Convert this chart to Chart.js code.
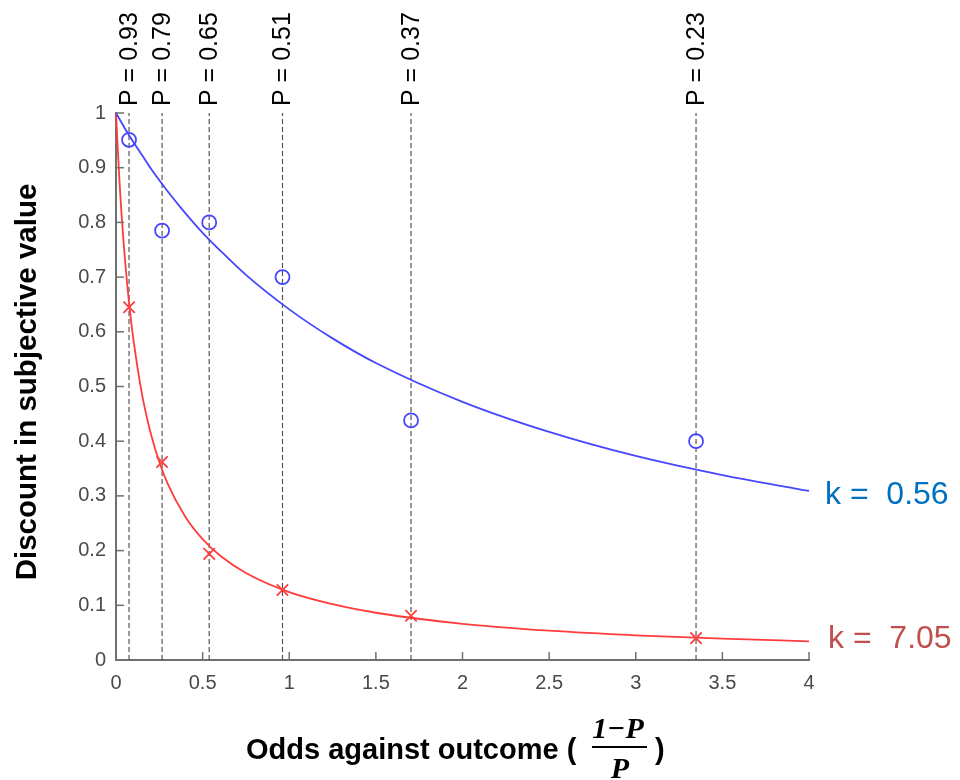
<!DOCTYPE html>
<html>
<head>
<meta charset="utf-8">
<script src="https://cdn.jsdelivr.net/npm/chart.js@4.4.1/dist/chart.umd.min.js"></script>
<style>
html,body{margin:0;padding:0;background:#fff;}
#wrap{width:960px;height:780px;}
</style>
</head>
<body>
<div id="wrap"><canvas id="c" width="960" height="780"></canvas></div>
<script>
// ---- data ----
const oddsX = [0.0753, 0.266, 0.538, 0.961, 1.703, 3.348];
const pLabels = ['P = 0.93', 'P = 0.79', 'P = 0.65', 'P = 0.51', 'P = 0.37', 'P = 0.23'];
const blueObserved = [0.951, 0.785, 0.800, 0.700, 0.438, 0.400];
const redObserved = [0.645, 0.362, 0.194, 0.128, 0.081, 0.040];
const curveX = [0, 0.02, 0.04, 0.06, 0.08, 0.1, 0.15, 0.2, 0.25, 0.3, 0.4, 0.5, 0.6, 0.75, 1, 1.25, 1.5, 2, 2.5, 3, 3.5, 4];
const blueCurve = [1, 0.989, 0.978, 0.967, 0.957, 0.947, 0.923, 0.899, 0.877, 0.856, 0.817, 0.781, 0.749, 0.704, 0.641, 0.588, 0.543, 0.472, 0.417, 0.373, 0.338, 0.309];
const redCurve = [1, 0.876, 0.780, 0.703, 0.639, 0.587, 0.486, 0.415, 0.362, 0.321, 0.262, 0.221, 0.191, 0.159, 0.124, 0.102, 0.0864, 0.0662, 0.0537, 0.0451, 0.0389, 0.0342];
const xTicks = [0, 0.5, 1, 1.5, 2, 2.5, 3, 3.5, 4];
const yTicks = [0, 0.1, 0.2, 0.3, 0.4, 0.5, 0.6, 0.7, 0.8, 0.9, 1];
const kLabels = ['k =  0.56', 'k =  7.05'];
const kValues = [0.309, 0.0342]; // curve end values where labels sit

const BLUE = 'rgb(70,70,255)';
const RED = 'rgb(255,60,60)';
const AXIS = '#707070';
const TICKC = '#4a4a4a';
const SANS = '"Liberation Sans", Arial, Helvetica, sans-serif';

const pairs = (xs, ys) => xs.map((x, i) => ({x: x, y: ys[i]}));

const dashSets = oddsX.map(x => ({
  type: 'line',
  data: [{x: x, y: 0}, {x: x, y: 1}],
  borderColor: '#555',
  borderWidth: 1.2,
  borderDash: [5, 3],
  pointRadius: 0,
  clip: false,
  order: 5
}));

const overlay = {
  id: 'overlay',
  afterDraw(chart) {
    const ctx = chart.ctx;
    const xs = chart.scales.x, ys = chart.scales.y;
    const area = chart.chartArea;
    ctx.save();
    // inward tick marks
    ctx.strokeStyle = AXIS;
    ctx.lineWidth = 1.5;
    xTicks.forEach(v => {
      const px = xs.getPixelForValue(v);
      ctx.beginPath(); ctx.moveTo(px, area.bottom); ctx.lineTo(px, area.bottom - 8); ctx.stroke();
    });
    yTicks.forEach(v => {
      const py = ys.getPixelForValue(v);
      ctx.beginPath(); ctx.moveTo(area.left, py); ctx.lineTo(area.left + 8, py); ctx.stroke();
    });
    // P labels
    ctx.fillStyle = '#000';
    ctx.font = '25px ' + SANS;
    ctx.textAlign = 'left';
    ctx.textBaseline = 'middle';
    oddsX.forEach((x, i) => {
      const px = xs.getPixelForValue(x);
      ctx.save();
      ctx.translate(px + 1, area.top - 7);
      ctx.rotate(-Math.PI / 2);
      ctx.fillText(pLabels[i], 0, 0);
      ctx.restore();
    });
    // k labels
    ctx.font = '32px ' + SANS;
    ctx.textBaseline = 'alphabetic';
    ctx.fillStyle = '#0070c0';
    ctx.fillText(kLabels[0], area.right + 16, ys.getPixelForValue(kValues[0]) + 13);
    ctx.fillStyle = '#c0504d';
    ctx.fillText(kLabels[1], area.right + 19, ys.getPixelForValue(kValues[1]) + 7);
    // y title
    ctx.fillStyle = '#000';
    ctx.font = 'bold 29.5px ' + SANS;
    ctx.save();
    ctx.translate(36, 382);
    ctx.rotate(-Math.PI / 2);
    ctx.textAlign = 'center';
    ctx.fillText('Discount in subjective value', 0, 0);
    ctx.restore();
    // x title
    ctx.textAlign = 'left';
    ctx.font = 'bold 29px ' + SANS;
    ctx.fillText('Odds against outcome (', 246, 759);
    // fraction
    ctx.font = 'bold italic 30px "Liberation Serif", "Times New Roman", serif';
    ctx.textAlign = 'center';
    ctx.fillText('1\u2212P', 618, 738);
    ctx.fillText('P', 620, 778);
    ctx.strokeStyle = '#000';
    ctx.lineWidth = 2;
    ctx.beginPath(); ctx.moveTo(592, 747); ctx.lineTo(647, 747); ctx.stroke();
    ctx.textAlign = 'left';
    ctx.font = 'bold 29px ' + SANS;
    ctx.fillText(')', 655, 759);
    ctx.restore();
  }
};

new Chart(document.getElementById('c'), {
  type: 'scatter',
  data: {
    datasets: [
      ...dashSets,
      {
        type: 'line', data: pairs(curveX, blueCurve), borderColor: BLUE, borderWidth: 1.8,
        pointRadius: 0, cubicInterpolationMode: 'monotone', clip: false, order: 2
      },
      {
        type: 'line', data: pairs(curveX, redCurve), borderColor: RED, borderWidth: 1.8,
        pointRadius: 0, cubicInterpolationMode: 'monotone', clip: false, order: 2
      },
      {
        data: pairs(oddsX, blueObserved), pointStyle: 'circle', pointRadius: 7,
        borderColor: BLUE, backgroundColor: 'rgba(0,0,0,0)', pointBorderWidth: 1.8, clip: false, order: 1
      },
      {
        data: pairs(oddsX, redObserved), pointStyle: 'crossRot', pointRadius: 8,
        borderColor: RED, backgroundColor: RED, pointBorderWidth: 1.8, clip: false, order: 1
      }
    ]
  },
  options: {
    responsive: false,
    animation: false,
    layout: {padding: {top: 113, right: 151, left: 0, bottom: 0}},
    plugins: {legend: {display: false}, tooltip: {enabled: false}},
    scales: {
      x: {
        type: 'linear', min: 0, max: 4,
        afterFit(s) { s.height = 120; },
        afterBuildTicks(s) { s.ticks = xTicks.map(v => ({value: v})); },
        grid: {display: false, drawTicks: false},
        border: {display: true, color: AXIS, width: 2},
        ticks: {
          padding: 11, color: TICKC, font: {size: 20, family: SANS},
          maxRotation: 0, autoSkip: false,
          callback: v => String(v)
        }
      },
      y: {
        type: 'linear', min: 0, max: 1,
        afterFit(s) { s.width = 116; },
        afterBuildTicks(s) { s.ticks = yTicks.map(v => ({value: v})); },
        grid: {display: false, drawTicks: false},
        border: {display: true, color: AXIS, width: 2},
        ticks: {
          padding: 10, color: TICKC, font: {size: 20, family: SANS},
          autoSkip: false,
          callback: v => String(Math.round(v * 10) / 10)
        }
      }
    }
  },
  plugins: [overlay]
});
</script>
</body>
</html>
